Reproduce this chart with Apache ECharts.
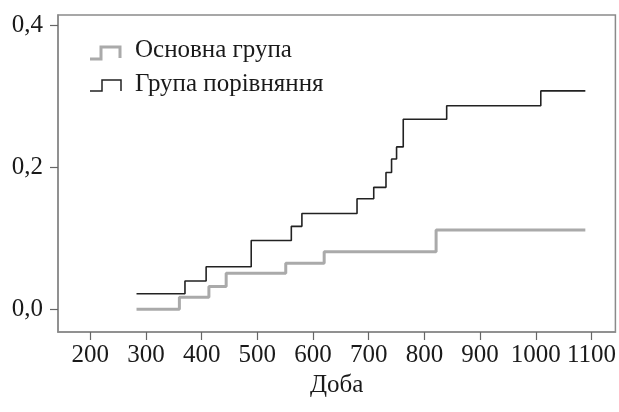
<!DOCTYPE html>
<html>
<head>
<meta charset="utf-8">
<script src="https://cdn.jsdelivr.net/npm/echarts@6/dist/echarts.min.js"></script>
<style>
html,body{margin:0;padding:0;background:#fff;}
#chart{width:619px;height:412px;}
</style>
</head>
<body>
<div id="chart"></div>
<script>
// Data
var seriesNames = ['Основна група', 'Група порівняння'];
var mainTimes = [283, 360, 413, 444, 551, 620, 821, 1089];
var mainLevels = [0, 0.017, 0.032, 0.051, 0.065, 0.081, 0.112, 0.112];
var compTimes = [283, 370, 408, 489, 561, 580, 679, 709, 731, 741, 750, 762, 840, 1009, 1089];
var compLevels = [0.022, 0.040, 0.060, 0.097, 0.117, 0.135, 0.156, 0.172, 0.193, 0.212, 0.229, 0.268, 0.287, 0.308, 0.308];
var xTicks = [200, 300, 400, 500, 600, 700, 800, 900, 1000, 1100];
var yTicks = [0, 0.2, 0.4];
var xName = 'Доба';

function pairs(t, v) { return t.map(function (x, i) { return [x, v[i]]; }); }

var FONT = 'Liberation Serif';
var FS = 25;
var chart = echarts.init(document.getElementById('chart'), null, {renderer: 'canvas'});
chart.setOption({
  animation: false,
  backgroundColor: '#ffffff',
  grid: {left: 58, top: 15, right: 1.5, bottom: 80, show: true, borderColor: '#8a8a8a', borderWidth: 1.5, backgroundColor: 'transparent'},
  xAxis: {
    type: 'value', min: 142, max: 1143,
    name: xName, nameLocation: 'middle', nameGap: 30,
    nameTextStyle: {fontFamily: FONT, fontSize: FS, color: '#1a1a1a'},
    axisLine: {show: true, onZero: false, lineStyle: {color: '#8a8a8a', width: 1.5}},
    axisTick: {show: true, customValues: xTicks, length: 8, lineStyle: {color: '#666', width: 1.2}},
    axisLabel: {customValues: xTicks, margin: 11, fontFamily: FONT, fontSize: FS, color: '#1a1a1a',
      formatter: function (v) { return String(v); }},
    splitLine: {show: false}
  },
  yAxis: {
    type: 'value', min: -0.032, max: 0.415,
    axisLine: {show: true, onZero: false, lineStyle: {color: '#8a8a8a', width: 1.5}},
    axisTick: {show: true, customValues: yTicks, length: 8, lineStyle: {color: '#666', width: 1.2}},
    axisLabel: {customValues: yTicks, margin: 15, fontFamily: FONT, fontSize: FS, color: '#1a1a1a',
      formatter: function (v) { return v.toFixed(1).replace('.', ','); }},
    splitLine: {show: false}
  },
  series: [
    {name: seriesNames[0], type: 'line', step: 'end', showSymbol: false, symbol: 'none',
     data: pairs(mainTimes, mainLevels), lineStyle: {color: '#aaaaaa', width: 3}, z: 2},
    {name: seriesNames[1], type: 'line', step: 'end', showSymbol: false, symbol: 'none',
     data: pairs(compTimes, compLevels), lineStyle: {color: '#222222', width: 1.6}, z: 3}
  ],
  graphic: [
    {type: 'polyline', shape: {points: [[90, 59], [101, 59], [101, 47], [120, 47], [120, 58]]},
     style: {stroke: '#aaaaaa', lineWidth: 3, fill: null}},
    {type: 'text', left: 135, top: 38, style: {text: seriesNames[0], font: FS + 'px "Liberation Serif"', fill: '#1a1a1a'}},
    {type: 'polyline', shape: {points: [[90, 91], [102, 91], [102, 80], [121, 80], [121, 91]]},
     style: {stroke: '#222222', lineWidth: 1.5, fill: null}},
    {type: 'text', left: 135, top: 72, style: {text: seriesNames[1], font: FS + 'px "Liberation Serif"', fill: '#1a1a1a'}}
  ]
});
</script>
</body>
</html>
